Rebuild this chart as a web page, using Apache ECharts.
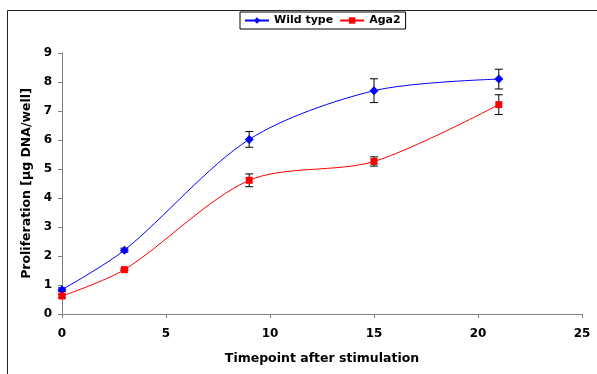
<!DOCTYPE html>
<html><head><meta charset="utf-8">
<script src="https://cdn.jsdelivr.net/npm/echarts@6/dist/echarts.min.js"></script>
<style>html,body{margin:0;padding:0;background:#fff}#c{width:597px;height:374px}</style>
</head><body><div id="c"></div>
<script>
const timepoints = [0, 3, 9, 15, 21];
const wildType = [0.84, 2.2, 6.02, 7.7, 8.1];
const wildTypeErr = [0.06, 0.07, 0.27, 0.41, 0.34];
const aga2 = [0.62, 1.53, 4.61, 5.26, 7.22];
const aga2Err = [0.05, 0.03, 0.22, 0.16, 0.34];
const xTicks = [0, 5, 10, 15, 20, 25];
const yTicks = [0, 1, 2, 3, 4, 5, 6, 7, 8, 9];

const font = 'DejaVu Sans';
function pairs(xs, ys){ return xs.map((x,i)=>[x, ys[i]]); }
function errData(xs, ys, es){ return xs.map((x,i)=>[x, ys[i]-es[i], ys[i]+es[i]]); }
function errSeries(name, data){
  return {
    type:'custom', name: name, silent:true, z:1,
    data: data,
    renderItem: function(params, api){
      const x = api.value(0);
      const lo = api.coord([x, api.value(1)]);
      const hi = api.coord([x, api.value(2)]);
      const w = 4;
      const st = {stroke:'#000', lineWidth:1};
      return {type:'group', children:[
        {type:'line', shape:{x1:lo[0],y1:lo[1],x2:hi[0],y2:hi[1]}, style:st},
        {type:'line', shape:{x1:lo[0]-w,y1:lo[1],x2:lo[0]+w,y2:lo[1]}, style:st},
        {type:'line', shape:{x1:hi[0]-w,y1:hi[1],x2:hi[0]+w,y2:hi[1]}, style:st}
      ]};
    }
  };
}
const chart = echarts.init(document.getElementById('c'), null, {renderer:'canvas'});
chart.setOption({
  animation:false,
  backgroundColor:'#fff',
  graphic:[{type:'rect', shape:{x:7.5,y:10.5,width:620,height:400}, style:{fill:'none', stroke:'#222', lineWidth:1}, z:-1}],
  grid:{left:62, right:15, top:53, bottom:60},
  legend:{
    left:240, top:12, data:['Wild type','Aga2'],
    borderColor:'#000', borderWidth:1, padding:[3,5,3,4], itemGap:6,
    itemWidth:24, itemHeight:8,
    textStyle:{fontFamily:font, fontWeight:'bold', fontSize:11, color:'#000'}
  },
  xAxis:{
    type:'value', min:0, max:25, interval:5,
    name:'Timepoint after stimulation', nameLocation:'middle', nameGap:38,
    nameTextStyle:{fontFamily:font, fontWeight:'bold', fontSize:12.5, color:'#000'},
    axisLine:{lineStyle:{color:'#808080', width:1}},
    axisTick:{show:true, inside:false, length:4, lineStyle:{color:'#808080'}},
    axisLabel:{fontFamily:font, fontWeight:'bold', fontSize:12, color:'#000', margin:14},
    splitLine:{show:false}
  },
  yAxis:{
    type:'value', min:0, max:9, interval:1,
    name:'Proliferation [µg DNA/well]', nameLocation:'middle', nameGap:26, nameRotate:90,
    nameTextStyle:{fontFamily:font, fontWeight:'bold', fontSize:12.5, color:'#000'},
    axisLine:{show:true, lineStyle:{color:'#808080', width:1}},
    axisTick:{show:true, length:4, lineStyle:{color:'#808080'}},
    axisLabel:{fontFamily:font, fontWeight:'bold', fontSize:12, color:'#000', margin:10},
    splitLine:{show:false}
  },
  series:[
    errSeries('errWT', errData(timepoints, wildType, wildTypeErr)),
    errSeries('errAga', errData(timepoints, aga2, aga2Err)),
    {name:'Wild type', type:'line', data:pairs(timepoints, wildType), smooth:0.3,
     symbol:'diamond', symbolSize:9, z:3,
     lineStyle:{color:'#0000FF', width:1}, itemStyle:{color:'#0000FF'}},
    {name:'Aga2', type:'line', data:pairs(timepoints, aga2), smooth:0.3,
     symbol:'rect', symbolSize:7, z:3,
     lineStyle:{color:'#FF0000', width:1}, itemStyle:{color:'#FF0000'}}
  ]
});
</script></body></html>
